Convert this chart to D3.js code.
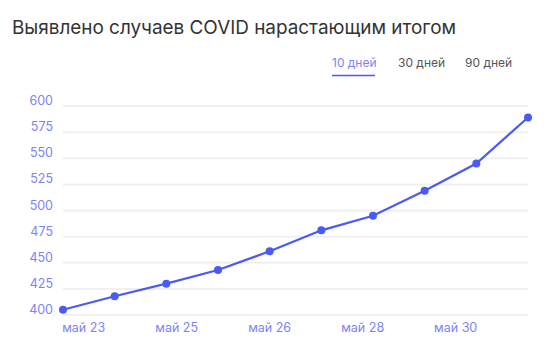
<!DOCTYPE html>
<html>
<head>
<meta charset="utf-8">
<script src="https://cdn.jsdelivr.net/npm/d3@7"></script>
<style>
  body { margin: 0; background: #fff; }
  svg { display: block; font-family: Inter, "Noto Sans", sans-serif; }
</style>
</head>
<body>
<svg id="chart" width="556" height="353"></svg>
<script>
// Data: cumulative cases for the last 10 days
const days = [0, 1, 2, 3, 4, 5, 6, 7, 8, 9];
const cases = [405, 418, 430, 443, 461, 481, 495, 519, 545, 589];

// X axis labels (positions in day index, as they sit in the picture)
const xTickPos = [0.4, 2.2, 4.0, 5.8, 7.6];
const xTickLabels = ["май 23", "май 25", "май 26", "май 28", "май 30"];

const yTicks = [400, 425, 450, 475, 500, 525, 550, 575, 600];

const periods = ["10 дней", "30 дней", "90 дней"];

const svg = d3.select("#chart");

const margin = { top: 106, right: 28, bottom: 38, left: 63 };
const width = 556 - margin.left - margin.right;
const height = 353 - margin.top - margin.bottom;

// Title
svg.append("text")
    .attr("x", 12)
    .attr("y", 34)
    .style("font-size", "18.9px")
    .style("fill", "#333")
    .text("Выявлено случаев COVID нарастающим итогом");

// Period switcher
const periodX = [332, 398, 465];
svg.selectAll(".period")
    .data(periods)
    .enter().append("text")
    .attr("class", "period")
    .attr("x", (d, i) => periodX[i])
    .attr("y", 67)
    .style("font-size", "12px")
    .style("fill", (d, i) => i === 0 ? "#7c84f5" : "#555")
    .text(d => d);

svg.append("line")
    .attr("x1", 332).attr("x2", 375)
    .attr("y1", 75.5).attr("y2", 75.5)
    .attr("stroke", "#4a5af6")
    .attr("stroke-width", 1.5);

const g = svg.append("g")
    .attr("transform", "translate(" + margin.left + "," + margin.top + ")");

const x = d3.scaleLinear()
    .domain([0, 9])
    .range([0, width]);

const y = d3.scaleLinear()
    .domain([400, 600])
    .range([height, 0]);

// Grid lines
g.selectAll(".grid")
    .data(yTicks)
    .enter().append("line")
    .attr("class", "grid")
    .attr("x1", 0)
    .attr("x2", width)
    .attr("y1", d => y(d))
    .attr("y2", d => y(d))
    .attr("stroke", "#f0f0f0")
    .attr("stroke-width", 2);

// Y axis labels
g.selectAll(".ylab")
    .data(yTicks)
    .enter().append("text")
    .attr("class", "ylab")
    .attr("x", -10)
    .attr("y", d => y(d) - 1)
    .attr("text-anchor", "end")
    .style("font-size", "12.5px")
    .style("fill", "#7c84f5")
    .text(d => d);

// X axis labels
g.selectAll(".xlab")
    .data(xTickPos)
    .enter().append("text")
    .attr("class", "xlab")
    .attr("x", d => x(d))
    .attr("y", height + 17)
    .attr("text-anchor", "middle")
    .style("font-size", "12.5px")
    .style("fill", "#7c84f5")
    .text((d, i) => xTickLabels[i]);

// Line
const line = d3.line()
    .x((d, i) => x(days[i]))
    .y(d => y(d));

g.append("path")
    .datum(cases)
    .attr("fill", "none")
    .attr("stroke", "#4a5af6")
    .attr("stroke-width", 2.2)
    .attr("d", line);

// Points
g.selectAll(".dot")
    .data(cases)
    .enter().append("circle")
    .attr("class", "dot")
    .attr("cx", (d, i) => x(days[i]))
    .attr("cy", d => y(d))
    .attr("r", 4)
    .attr("fill", "#4a5af6");
</script>
</body>
</html>
